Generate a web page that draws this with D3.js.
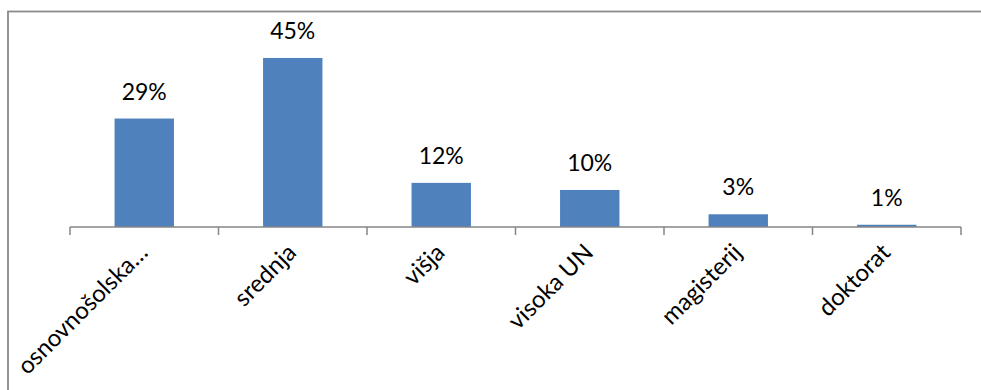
<!DOCTYPE html>
<html>
<head>
<meta charset="utf-8">
<script src="https://cdn.jsdelivr.net/npm/d3@7"></script>
<style>
  body { margin: 0; background: #fff; }
  text { font-family: Lato, "Liberation Sans", Arial, sans-serif; fill: #000; }
</style>
</head>
<body>
<svg id="chart" width="981" height="390"></svg>
<script>
// education level shares
var categories = ["osnovnošolska…", "srednja", "višja", "visoka UN", "magisterij", "doktorat"];
var values = [0.29, 0.452, 0.118, 0.099, 0.034, 0.006];
var valueLabels = ["29%", "45%", "12%", "10%", "3%", "1%"];

var svg = d3.select("#chart");

// outer chart border (right and bottom edges fall outside the picture)
svg.append("rect")
  .attr("x", 8).attr("y", 11.5)
  .attr("width", 1000).attr("height", 400)
  .attr("fill", "none")
  .attr("stroke", "#8a8a8a")
  .attr("stroke-width", 1.8);

var x = d3.scaleBand()
  .domain(categories)
  .range([70, 961])
  .paddingInner(0.6)
  .paddingOuter(0.3);

var y = d3.scaleLinear()
  .domain([0, 0.5])
  .range([227, 40]);

var g = svg.append("g");

g.selectAll(".bar")
  .data(values)
  .enter()
  .append("rect")
  .attr("class", "bar")
  .attr("x", function (d, i) { return x(categories[i]); })
  .attr("y", function (d) { return y(d); })
  .attr("width", x.bandwidth())
  .attr("height", function (d) { return y(0) - y(d); })
  .attr("fill", "#4f81bd");

g.selectAll(".vlabel")
  .data(values)
  .enter()
  .append("text")
  .attr("class", "vlabel")
  .attr("x", function (d, i) { return x(categories[i]) + x.bandwidth() / 2; })
  .attr("y", function (d) { return y(d) - 19; })
  .style("text-anchor", "middle")
  .style("font-size", "23px")
  .text(function (d, i) { return valueLabels[i]; });

// category axis: line plus ticks at band edges
var edges = d3.range(categories.length + 1).map(function (i) {
  return 70 + i * (891 / categories.length);
});

g.append("line")
  .attr("x1", 70).attr("x2", 961)
  .attr("y1", y(0)).attr("y2", y(0))
  .attr("stroke", "#868686")
  .attr("stroke-width", 1.5);

g.selectAll(".tick")
  .data(edges)
  .enter()
  .append("line")
  .attr("x1", function (d) { return d; })
  .attr("x2", function (d) { return d; })
  .attr("y1", y(0)).attr("y2", y(0) + 8)
  .attr("stroke", "#868686")
  .attr("stroke-width", 1.5);

g.selectAll(".clabel")
  .data(categories)
  .enter()
  .append("text")
  .attr("class", "clabel")
  .attr("transform", function (d) {
    var cx = x(d) + x.bandwidth() / 2;
    return "translate(" + (cx + 5) + "," + 254 + ") rotate(-45)";
  })
  .style("text-anchor", "end")
  .style("font-size", "24px")
  .text(function (d) { return d; });
</script>
</body>
</html>
